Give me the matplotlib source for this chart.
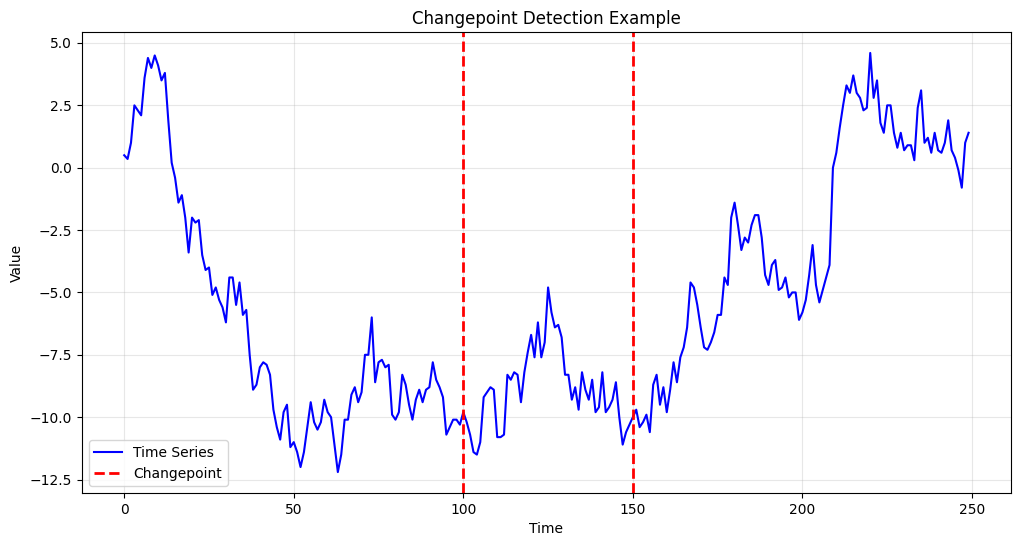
import numpy as np
import matplotlib
matplotlib.use("Agg")
import matplotlib.pyplot as plt

# values, one per time step (0..249)
values = [
    0.5, 0.35, 1.0, 2.5, 2.3, 2.1, 3.6, 4.4, 4.0, 4.5,
    4.1, 3.5, 3.8, 1.9, 0.2, -0.4, -1.4, -1.1, -2.0, -3.4,
    -2.0, -2.2, -2.1, -3.5, -4.1, -4.0, -5.1, -4.8, -5.3, -5.6,
    -6.2, -4.4, -4.4, -5.5, -4.6, -5.9, -5.7, -7.5, -8.9, -8.7,
    -8.0, -7.8, -7.9, -8.3, -9.7, -10.4, -10.9, -9.8, -9.5, -11.2,
    -11.0, -11.4, -12.0, -11.4, -10.4, -9.4, -10.2, -10.5, -10.2, -9.3,
    -9.8, -10.0, -11.1, -12.2, -11.5, -10.1, -10.1, -9.1, -8.8, -9.4,
    -9.0, -7.5, -7.5, -6.0, -8.6, -7.8, -7.7, -8.0, -7.9, -9.9,
    -10.1, -9.8, -8.3, -8.7, -9.5, -10.1, -9.3, -8.9, -9.4, -8.9,
    -8.8, -7.8, -8.5, -8.8, -9.2, -10.7, -10.4, -10.1, -10.1, -10.3,
    -9.8, -10.2, -10.7, -11.4, -11.5, -11.0, -9.2, -9.0, -8.8, -8.9,
    -10.8, -10.8, -10.7, -8.3, -8.5, -8.2, -8.3, -9.4, -8.2, -7.4,
    -6.7, -7.6, -6.2, -7.6, -7.0, -4.8, -5.8, -6.4, -6.3, -6.8,
    -8.3, -8.3, -9.3, -8.8, -9.7, -8.2, -8.9, -9.3, -8.5, -9.8,
    -9.6, -8.2, -9.8, -9.6, -9.3, -8.6, -10.0, -11.1, -10.6, -10.3,
    -10.0, -9.7, -10.4, -10.2, -9.9, -10.6, -8.7, -8.3, -9.5, -8.8,
    -9.8, -8.9, -7.8, -8.6, -7.6, -7.2, -6.4, -4.6, -4.8, -5.5,
    -6.4, -7.2, -7.3, -7.0, -6.6, -5.9, -5.9, -4.4, -4.7, -2.0,
    -1.4, -2.3, -3.3, -2.8, -3.0, -2.3, -1.9, -1.9, -2.8, -4.3,
    -4.7, -3.9, -3.7, -4.9, -4.8, -4.4, -5.2, -5.0, -5.0, -6.1,
    -5.8, -5.3, -4.3, -3.1, -4.7, -5.4, -4.9, -4.4, -3.9, 0.0,
    0.6, 1.6, 2.5, 3.3, 3.0, 3.7, 3.0, 2.8, 2.3, 2.4,
    4.6, 2.8, 3.5, 1.8, 1.4, 2.5, 2.5, 1.4, 0.8, 1.4,
    0.7, 0.9, 0.9, 0.3, 2.4, 3.1, 1.0, 1.2, 0.6, 1.4,
    0.7, 0.6, 1.0, 1.9, 0.7, 0.4, -0.1, -0.8, 1.0, 1.4,
]
time = np.arange(len(values))
changepoints = [100, 150]


def main():
    fig = plt.figure(figsize=(10.21, 5.47), dpi=100)
    ax = fig.add_subplot(111)
    fig.subplots_adjust(left=0.0803, right=0.990, top=0.9415, bottom=0.0987)

    ax.plot(time, values, color="blue", linewidth=1.5, label="Time Series")
    for i, cp in enumerate(changepoints):
        ax.axvline(cp, color="red", linestyle="--", linewidth=2,
                   label="Changepoint" if i == 0 else None)

    ax.set_xlabel("Time")
    ax.set_ylabel("Value")
    ax.set_title("Changepoint Detection Example")
    ax.legend(loc="lower left")
    ax.grid(True, alpha=0.3)

    fig.savefig("out.png", dpi=100)
    plt.close(fig)


if __name__ == "__main__":
    main()
